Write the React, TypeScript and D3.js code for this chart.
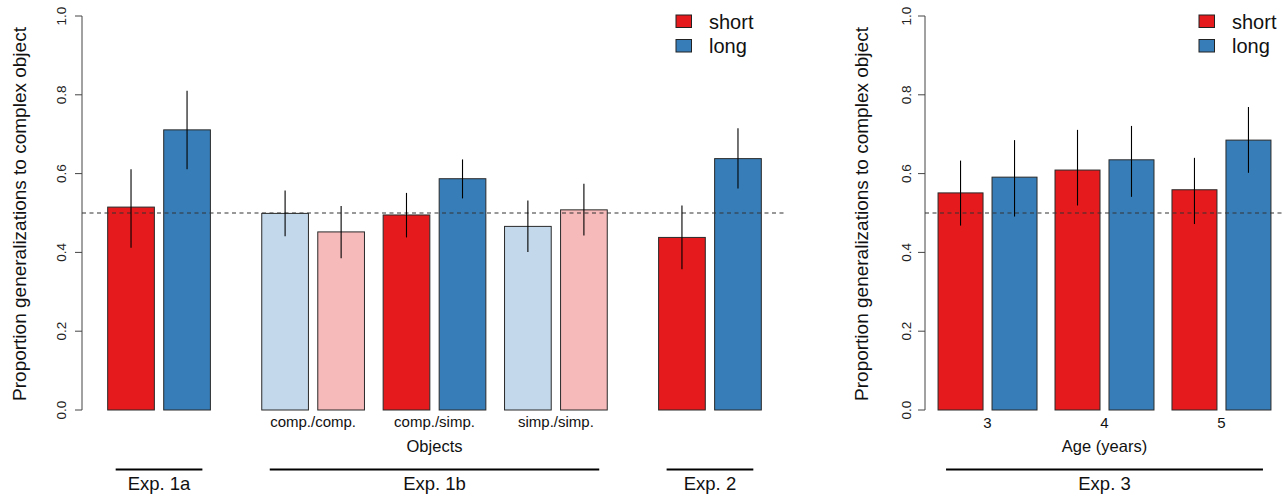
import React from "react";
import { scaleLinear, format, cumsum } from "d3";

// values (proportion, with error bar ends)
const leftMeans = [0.515, 0.711, 0.499, 0.452, 0.495, 0.587, 0.466, 0.508, 0.438, 0.638];
const leftLower = [0.412, 0.611, 0.441, 0.385, 0.438, 0.537, 0.401, 0.443, 0.357, 0.562];
const leftUpper = [0.611, 0.81, 0.557, 0.518, 0.551, 0.636, 0.532, 0.574, 0.519, 0.715];
const leftExp = [0, 0, 1, 1, 1, 1, 1, 1, 2, 2];
const expLabels = ["Exp. 1a", "Exp. 1b", "Exp. 2"];
const objectLabels = ["comp./comp.", "comp./simp.", "simp./simp."];

const rightMeans = [0.551, 0.591, 0.609, 0.635, 0.559, 0.685];
const rightLower = [0.468, 0.491, 0.519, 0.541, 0.472, 0.602];
const rightUpper = [0.633, 0.685, 0.711, 0.721, 0.64, 0.769];
const ageLabels = ["3", "4", "5"];

const legendLabels = ["short", "long"];
const yTicks = [0, 0.2, 0.4, 0.6, 0.8, 1.0];
const chance = 0.5;

// styles
const RED = "#E41A1C";
const BLUE = "#377EB8";
const LRED = "#F7BABB";
const LBLUE = "#C3D8EA";
const leftFill = [RED, BLUE, LBLUE, LRED, RED, BLUE, LBLUE, LRED, RED, BLUE];
const rightFill = [RED, BLUE, RED, BLUE, RED, BLUE];
const FONT = "'Liberation Sans', Arial, Helvetica, sans-serif";

// barplot spacing (in bar widths), like R's space argument
const leftSpace = [0.55, 0.2, 1.1, 0.2, 0.4, 0.2, 0.4, 0.2, 1.1, 0.2];
const rightSpace = [0.29, 0.2, 0.4, 0.2, 0.4, 0.2];

const y = scaleLinear().domain([0, 1]).range([410, 16]);
const fmt = format(".1f");

function barStarts(space: number[]) {
  const cs = Array.from(cumsum(space));
  return cs.map((s, i) => s + i);
}

type PanelProps = {
  means: number[];
  lower: number[];
  upper: number[];
  fills: string[];
  space: number[];
  x0: number;
  x1: number;
  tickLabelX: number;
  yLabelX: number;
  legendX: number;
};

function Panel({ means, lower, upper, fills, space, x0, x1, tickLabelX, yLabelX, legendX }: PanelProps) {
  const starts = barStarts(space);
  const total = starts[starts.length - 1] + 1 + space[0];
  const x = scaleLinear().domain([0, total]).range([x0, x1]);
  const bw = x(1) - x(0);
  return (
    <g>
      {/* y axis */}
      <line x1={x0} x2={x0} y1={y(0)} y2={y(1)} stroke="#444" strokeWidth={1} />
      {yTicks.map((t) => (
        <g key={t}>
          <line x1={x0 - 7} x2={x0} y1={y(t)} y2={y(t)} stroke="#444" strokeWidth={1} />
          <text
            transform={`translate(${tickLabelX},${y(t)}) rotate(-90)`}
            textAnchor="middle"
            fontSize={13.5}
            fill="#222"
          >
            {fmt(t)}
          </text>
        </g>
      ))}
      <text
        transform={`translate(${yLabelX},${(y(0) + y(1)) / 2 + 1}) rotate(-90)`}
        textAnchor="middle"
        fontSize={19}
        fill="#111"
      >
        Proportion generalizations to complex object
      </text>
      {/* bars */}
      {means.map((m, i) => (
        <rect
          key={i}
          x={x(starts[i])}
          y={y(m)}
          width={bw}
          height={y(0) - y(m)}
          fill={fills[i]}
          stroke="#2a2a2a"
          strokeWidth={1}
        />
      ))}
      {/* chance line */}
      <line
        x1={x0}
        x2={x1}
        y1={y(chance)}
        y2={y(chance)}
        stroke="#333"
        strokeWidth={1.2}
        strokeDasharray="4,3.5"
      />
      {/* error bars */}
      {means.map((m, i) => (
        <line
          key={i}
          x1={x(starts[i] + 0.5)}
          x2={x(starts[i] + 0.5)}
          y1={y(lower[i])}
          y2={y(upper[i])}
          stroke="#000"
          strokeWidth={1.1}
        />
      ))}
      {/* legend */}
      {legendLabels.map((l, i) => (
        <g key={l}>
          <rect
            x={legendX}
            y={15 + i * 24.5}
            width={15.5}
            height={12.5}
            fill={i === 0 ? RED : BLUE}
            stroke="#222"
            strokeWidth={1}
          />
          <text x={legendX + 33} y={28.5 + i * 24.5} fontSize={20} fill="#111">
            {l}
          </text>
        </g>
      ))}
    </g>
  );
}

function groupSpan(starts: number[], idx: number[], x: (v: number) => number) {
  const a = x(starts[idx[0]]);
  const b = x(starts[idx[idx.length - 1]] + 1);
  return [a, b];
}

export default function App() {
  const lStarts = barStarts(leftSpace);
  const lTotal = lStarts[lStarts.length - 1] + 1 + leftSpace[0];
  const lx = scaleLinear().domain([0, lTotal]).range([82, 787]);
  const rStarts = barStarts(rightSpace);
  const rTotal = rStarts[rStarts.length - 1] + 1 + rightSpace[0];
  const rx = scaleLinear().domain([0, rTotal]).range([925, 1284]);

  // object pairs inside Exp. 1b: bars 2..7
  const objPairs = objectLabels.map((_, k) => [2 + 2 * k, 3 + 2 * k]);
  const agePairs = ageLabels.map((_, k) => [2 * k, 2 * k + 1]);
  const expGroups = expLabels.map((_, e) => leftExp.map((g, i) => (g === e ? i : -1)).filter((i) => i >= 0));

  return (
    <svg
      width={1286}
      height={494}
      style={{ position: "absolute", left: 0, top: 0, background: "#fff" }}
      fontFamily={FONT}
    >
      <Panel
        means={leftMeans}
        lower={leftLower}
        upper={leftUpper}
        fills={leftFill}
        space={leftSpace}
        x0={82}
        x1={787}
        tickLabelX={66}
        yLabelX={26}
        legendX={676}
      />
      <Panel
        means={rightMeans}
        lower={rightLower}
        upper={rightUpper}
        fills={rightFill}
        space={rightSpace}
        x0={925}
        x1={1284}
        tickLabelX={911}
        yLabelX={868}
        legendX={1199}
      />

      {/* left x annotations */}
      {objPairs.map((p, k) => {
        const [a, b] = groupSpan(lStarts, p, lx);
        return (
          <text key={k} x={(a + b) / 2} y={427} textAnchor="middle" fontSize={15} fill="#111">
            {objectLabels[k]}
          </text>
        );
      })}
      {(() => {
        const [a, b] = groupSpan(lStarts, expGroups[1], lx);
        return (
          <text x={(a + b) / 2} y={452} textAnchor="middle" fontSize={16.5} fill="#111">
            Objects
          </text>
        );
      })()}
      {expGroups.map((g, e) => {
        const [a, b] = groupSpan(lStarts, g, lx);
        return (
          <g key={e}>
            <line x1={a + 8} x2={b - 8} y1={469.5} y2={469.5} stroke="#000" strokeWidth={2.2} />
            <text x={(a + b) / 2} y={490} textAnchor="middle" fontSize={18.5} fill="#111">
              {expLabels[e]}
            </text>
          </g>
        );
      })}

      {/* right x annotations */}
      {agePairs.map((p, k) => {
        const [a, b] = groupSpan(rStarts, p, rx);
        return (
          <text key={k} x={(a + b) / 2} y={428} textAnchor="middle" fontSize={15} fill="#111">
            {ageLabels[k]}
          </text>
        );
      })}
      {(() => {
        const [a, b] = groupSpan(rStarts, [0, 5], rx);
        return (
          <g>
            <text x={(a + b) / 2} y={452} textAnchor="middle" fontSize={16.5} fill="#111">
              Age (years)
            </text>
            <line x1={a + 8} x2={b - 8} y1={469.5} y2={469.5} stroke="#000" strokeWidth={2.2} />
            <text x={(a + b) / 2} y={490} textAnchor="middle" fontSize={18.5} fill="#111">
              Exp. 3
            </text>
          </g>
        );
      })()}
    </svg>
  );
}
